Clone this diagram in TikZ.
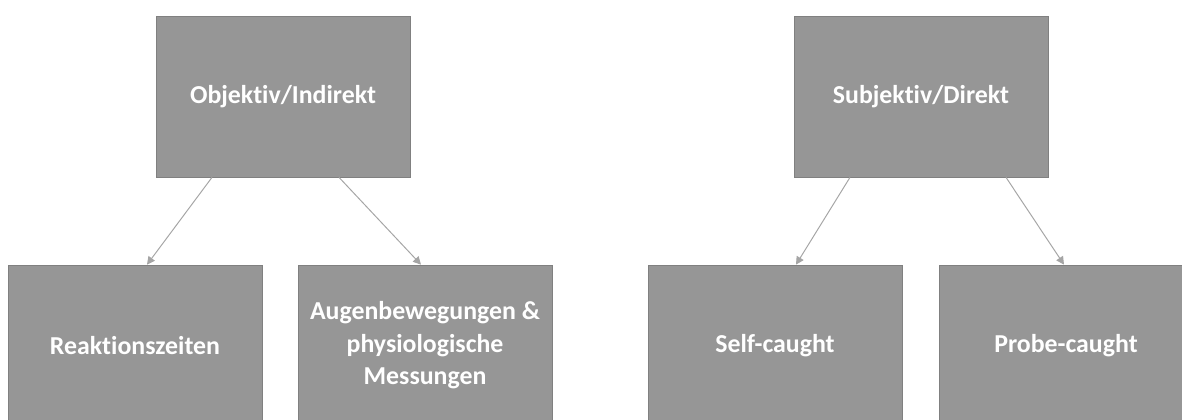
\documentclass[tikz,border=0pt]{standalone}
\usepackage{fontspec}
\setmainfont{Carlito}[Ligatures=NoCommon]
\usetikzlibrary{arrows.meta,calc,positioning}
\definecolor{boxGray}{RGB}{150,150,150}
\definecolor{boxLine}{RGB}{128,128,128}
\definecolor{arrowGray}{RGB}{165,165,165}
\tikzset{
  measureNode/.style={draw=boxLine, line width=0.4pt, fill=boxGray, align=center, text=white, font=\fontsize{14.7}{18.5}\selectfont\bfseries, inner sep=0pt, minimum width=5.08cm, minimum height=3.22cm},
  measureArrow/.style={-{Triangle[length=4.5pt, width=4.5pt]}, draw=arrowGray, line width=0.55pt}
}

\begin{document}
\begin{tikzpicture}
      \clip (0,0) rectangle (23.64,-8.4);
      \fill[white] (0,0) rectangle (23.64,-8.4);
      \node[measureNode] (objektiv) at (5.66,-1.93) {Objektiv/Indirekt};
      \node[measureNode] (subjektiv) at (18.42,-1.93) {Subjektiv/Direkt};
      \node[measureNode] (reaktion) at (2.70,-6.91) {Reaktionszeiten};
      \node[measureNode] (augen) at (8.50,-6.91) {Augenbewegungen \&\\physiologische\\Messungen};
      \node[measureNode] (self) at (15.50,-6.91) {Self-caught};
      \node[measureNode] (probe) at (21.32,-6.91) {Probe-caught};
      \draw[measureArrow] ([xshift=-1.42cm]objektiv.south) -- ([xshift=0.24cm]reaktion.north);
      \draw[measureArrow] ([xshift=1.12cm]objektiv.south) -- ([xshift=-0.08cm]augen.north);
      \draw[measureArrow] ([xshift=-1.42cm]subjektiv.south) -- ([xshift=0.42cm]self.north);
      \draw[measureArrow] ([xshift=1.70cm]subjektiv.south) -- ([xshift=-0.04cm]probe.north);
    \end{tikzpicture}
\end{document}
